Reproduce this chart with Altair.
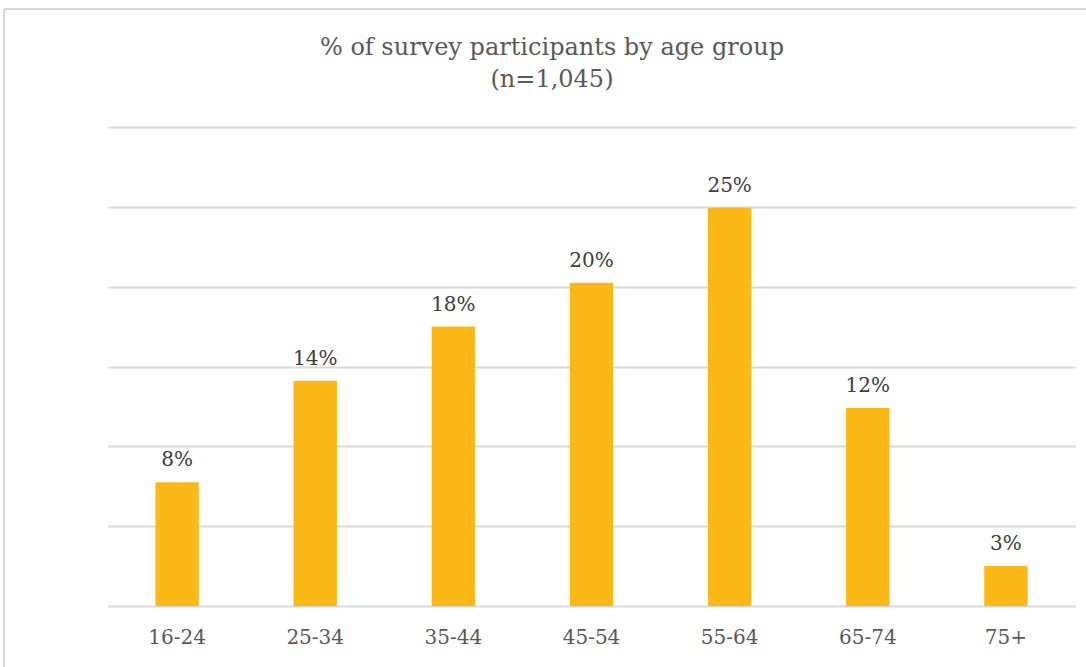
import altair as alt
import pandas as pd

groups = ["16-24", "25-34", "35-44", "45-54", "55-64", "65-74", "75+"]
values = [7.75, 14.1, 17.5, 20.25, 24.95, 12.4, 2.5]
labels = ["8%", "14%", "18%", "20%", "25%", "12%", "3%"]
title_lines = ["% of survey participants by age group", "(n=1,045)"]

df = pd.DataFrame({"group": groups, "value": values, "label": labels})
tdf = pd.DataFrame({"t": title_lines})

FONT = "Georgia, DejaVu Serif, Liberation Serif, serif"

x = alt.X("group:N", sort=groups, title=None,
          scale=alt.Scale(paddingInner=0.686, paddingOuter=0.343),
          axis=alt.Axis(labelAngle=0, labelFont=FONT, labelFontSize=20,
                        labelColor="#595959", ticks=False, domain=False,
                        grid=False, labelPadding=21))
y = alt.Y("value:Q", title=None,
          scale=alt.Scale(domain=[0, 30], nice=False),
          axis=alt.Axis(values=[0, 5, 10, 15, 20, 25, 30], labels=False,
                        ticks=False, domain=False, grid=True,
                        gridColor="#d9d9d9", gridWidth=2))

bars = alt.Chart(df).mark_bar(color="#FBB817").encode(x=x, y=y)
text = alt.Chart(df).mark_text(dy=-12, font=FONT, fontSize=20,
                               color="#404040", baseline="bottom").encode(
    x=alt.X("group:N", sort=groups), y="value:Q", text="label:N")

title1 = alt.Chart(tdf).transform_filter(alt.datum.t == title_lines[0]).mark_text(
    font=FONT, fontSize=24, color="#595959", baseline="middle", align="center"
).encode(x=alt.value(444), y=alt.value(-79), text="t:N")
title2 = alt.Chart(tdf).transform_filter(alt.datum.t == title_lines[1]).mark_text(
    font=FONT, fontSize=24, color="#595959", baseline="middle", align="center"
).encode(x=alt.value(444), y=alt.value(-47), text="t:N")

frame = alt.Chart(df).mark_rule(color="#d9d9d9", strokeWidth=2).encode(
    x=alt.value(-104), x2=alt.value(-104), y=alt.value(-118), y2=alt.value(600))
frame_top = alt.Chart(df).mark_rule(color="#d9d9d9", strokeWidth=2).encode(
    x=alt.value(-104), x2=alt.value(1100), y=alt.value(-118))

chart = alt.layer(bars, text, title1, title2, frame, frame_top).properties(
    width=967, height=479,
    background="white",
    autosize=alt.AutoSizeParams(type="none"),
    padding={"left": 108, "top": 127, "right": 11, "bottom": 61},
).configure_view(stroke="transparent", strokeWidth=0)

chart.save("out.html", embed_options={"renderer": "svg", "actions": False})
